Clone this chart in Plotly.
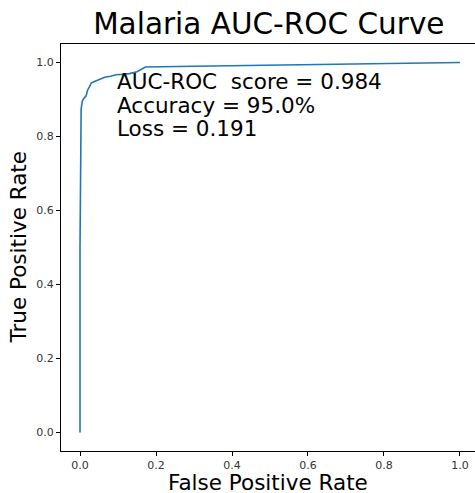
import plotly.graph_objects as go

fpr = [0.0, 0.0, 0.003, 0.006, 0.01, 0.016, 0.02, 0.025, 0.03, 0.035, 0.045, 0.055,
       0.065, 0.08, 0.095, 0.11, 0.13, 0.15, 0.172, 0.3, 0.5, 0.7, 0.9, 1.0]
tpr = [0.0, 0.5, 0.875, 0.895, 0.903, 0.91, 0.925, 0.935, 0.945, 0.947, 0.952, 0.955,
       0.96, 0.963, 0.967, 0.968, 0.97, 0.975, 0.988, 0.99, 0.993, 0.996, 1.0, 1.0]
x_ticks = [0.0, 0.2, 0.4, 0.6, 0.8, 1.0]
y_ticks = [0.0, 0.2, 0.4, 0.6, 0.8, 1.0]
info_lines = ["AUC-ROC\u00a0 score = 0.984", "Accuracy = 95.0%", "Loss = 0.191"]

FONT = "DejaVu Sans"

fig = go.Figure()
fig.add_trace(go.Scatter(x=fpr, y=tpr, mode="lines",
                         line=dict(color="#1f77b4", width=1.6), showlegend=False))

annotations = []
line_gap = 23.5
for i, t in enumerate(info_lines):
    annotations.append(dict(
        x=0.1, y=0.8, xref="x", yref="y", text=t, showarrow=False,
        xanchor="left", yanchor="middle", xshift=-3,
        yshift=(len(info_lines) - 1 - i) * line_gap + 8,
        font=dict(family=FONT, size=21.5, color="black")))
annotations.append(dict(x=0.5, y=0, xref="paper", yref="paper", text="False Positive Rate",
                        showarrow=False, xanchor="center", yanchor="middle", yshift=-31,
                        font=dict(family=FONT, size=21.5, color="black")))
annotations.append(dict(x=0, y=0.5, xref="paper", yref="paper", text="True Positive Rate",
                        showarrow=False, xanchor="center", yanchor="middle", xshift=-43,
                        textangle=-90, font=dict(family=FONT, size=21.5, color="black")))

fig.update_layout(
    width=475, height=493,
    margin=dict(l=61, r=0, t=44, b=42),
    paper_bgcolor="white", plot_bgcolor="white",
    font=dict(family=FONT, size=11, color="#333"),
    title=dict(text="Malaria AUC-ROC Curve", x=0.566,
               xanchor="center", y=1 - 24 / 493, yanchor="middle",
               font=dict(family=FONT, size=29.5, color="black")),
    annotations=annotations,
    xaxis=dict(range=[-0.05, 1.0395], tickvals=x_ticks, ticktext=[f"{v:.1f}" for v in x_ticks],
               showgrid=False, zeroline=False, showline=True, linecolor="black", linewidth=1,
               mirror=True, ticks="outside", ticklen=4, tickwidth=1, tickcolor="black",
               tickfont=dict(family=FONT, size=11, color="#333")),
    yaxis=dict(range=[-0.05, 1.05], tickvals=y_ticks, ticktext=[f"{v:.1f}" for v in y_ticks],
               showgrid=False, zeroline=False, showline=True, linecolor="black", linewidth=1,
               mirror=False, ticks="outside", ticklen=4, tickwidth=1, tickcolor="black",
               tickfont=dict(family=FONT, size=11, color="#333")),
)

fig.write_html("out.html")
